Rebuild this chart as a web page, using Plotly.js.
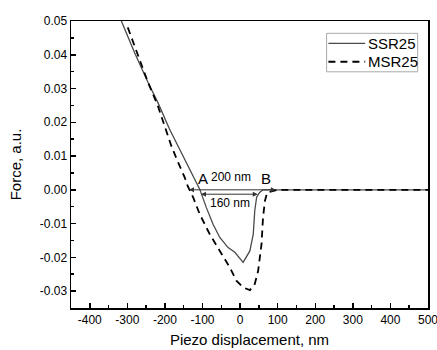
<!DOCTYPE html>
<html>
<head>
<meta charset="utf-8">
<script src="https://cdn.plot.ly/plotly-3.0.1.min.js"></script>
<style>html,body{margin:0;padding:0;background:#fff;}#chart{width:437px;height:350px;}</style>
</head>
<body>
<div id="chart"></div>
<script>
// series names
const seriesNames = ['SSR25', 'MSR25'];
// SSR25 (solid)
const ssrX = [-316, -281, -245, -219, -188, -156, -130, -116, -107.5, -90, -72, -54, -32, -14, 8, 26, 35, 39, 44, 52, 61, 100, 200, 300, 400, 500];
const ssrY = [0.0500, 0.0407, 0.0318, 0.0259, 0.0180, 0.0111, 0.0052, 0.0022, 0.0002, -0.0052, -0.0102, -0.0141, -0.0171, -0.0185, -0.0215, -0.0181, -0.0131, -0.0062, -0.0022, -0.0008, 0, 0, 0, 0, 0, 0];
// MSR25 (dashed)
const msrX = [-299, -281, -263, -245, -219, -201, -183, -165, -147.5, -139, -125, -107.5, -81, -54, -27.5, -10, 8, 26, 39, 48, 57, 61, 66, 72, 100, 200, 300, 400, 500];
const msrY = [0.0481, 0.0426, 0.0367, 0.0318, 0.0249, 0.0189, 0.0130, 0.0081, 0.0037, 0.0010, -0.0022, -0.0072, -0.0131, -0.0181, -0.0230, -0.0269, -0.0289, -0.0297, -0.0279, -0.0240, -0.0161, -0.0082, -0.0033, -0.0008, 0, 0, 0, 0, 0];

const xTickVals = [-400, -300, -200, -100, 0, 100, 200, 300, 400, 500];
const xTickText = ['-400', '-300', '-200', '-100', '0', '100', '200', '300', '400', '500'];
const yTickVals = [-0.03, -0.02, -0.01, 0, 0.01, 0.02, 0.03, 0.04, 0.05];
const yTickText = ['-0.03', '-0.02', '-0.01', '0.00', '0.01', '0.02', '0.03', '0.04', '0.05'];

// annotation spans
const spanA = [-140, 95, 0];       // 200 nm arrow: x0, x1, y
const spanB = [-108, 47, -0.0013]; // 160 nm arrow

const FONT = 'Arial, "Liberation Sans", sans-serif';
const SOLID = {color: '#4a4a4a', width: 1.3};
const DASHED = {color: '#000', width: 1.8, dash: '7px,5px'};

const traces = [
  {x: ssrX, y: ssrY, name: seriesNames[0], mode: 'lines', line: SOLID, showlegend: false},
  {x: msrX, y: msrY, name: seriesNames[1], mode: 'lines', line: DASHED, showlegend: false}
];

const annotations = [
  {x: spanA[1], y: spanA[2], ax: spanA[0], ay: spanA[2], xref: 'x', yref: 'y', axref: 'x', ayref: 'y', text: '', showarrow: true, arrowhead: 2, arrowside: 'end+start', arrowsize: 1, arrowwidth: 1, arrowcolor: '#333'},
  {x: spanB[1], y: spanB[2], ax: spanB[0], ay: spanB[2], xref: 'x', yref: 'y', axref: 'x', ayref: 'y', text: '', showarrow: true, arrowhead: 2, arrowside: 'end+start', arrowsize: 1, arrowwidth: 1, arrowcolor: '#333'},
  {x: -100, y: 0.0034, xref: 'x', yref: 'y', text: 'A', showarrow: false, font: {family: FONT, size: 15, color: '#000'}},
  {x: -23, y: 0.0038, xref: 'x', yref: 'y', text: '200 nm', showarrow: false, font: {family: FONT, size: 12, color: '#000'}},
  {x: 70, y: 0.0034, xref: 'x', yref: 'y', text: 'B', showarrow: false, font: {family: FONT, size: 15, color: '#000'}},
  {x: -27, y: -0.0040, xref: 'x', yref: 'y', text: '160 nm', showarrow: false, font: {family: FONT, size: 12, color: '#000'}},
  // legend labels
  {x: 0.826, y: 0.922, xref: 'paper', yref: 'paper', xanchor: 'left', yanchor: 'middle', text: seriesNames[0], showarrow: false, font: {family: FONT, size: 15, color: '#000'}},
  {x: 0.826, y: 0.858, xref: 'paper', yref: 'paper', xanchor: 'left', yanchor: 'middle', text: seriesNames[1], showarrow: false, font: {family: FONT, size: 15, color: '#000'}}
];

const shapes = [
  {type: 'rect', xref: 'paper', yref: 'paper', x0: 0.716, x1: 0.971, y0: 0.823, y1: 0.957, line: {color: '#aaa', width: 1}, fillcolor: '#fff', layer: 'above'},
  {type: 'line', xref: 'paper', yref: 'paper', x0: 0.721, x1: 0.824, y0: 0.922, y1: 0.922, line: SOLID, layer: 'above'},
  {type: 'line', xref: 'paper', yref: 'paper', x0: 0.721, x1: 0.824, y0: 0.858, y1: 0.858, line: DASHED, layer: 'above'}
];

const layout = {
  width: 437, height: 350,
  margin: {l: 71, r: 9, t: 21, b: 42},
  paper_bgcolor: '#fff', plot_bgcolor: '#fff',
  font: {family: FONT, size: 12, color: '#000'},
  showlegend: false,
  xaxis: {
    range: [-450, 500], tickvals: xTickVals, ticktext: xTickText,
    ticks: 'inside', ticklen: 5, tickwidth: 1.5, tickcolor: '#000',
    minor: {ticks: 'inside', ticklen: 3, tickwidth: 1.5, tickcolor: '#000', dtick: 50, tick0: 0, showgrid: false},
    showline: true, linecolor: '#000', linewidth: 1.5, mirror: true,
    showgrid: false, zeroline: false, ticklabeloverflow: 'allow',
    tickfont: {size: 12},
    title: {text: 'Piezo displacement, nm', font: {size: 15}, standoff: 8}
  },
  yaxis: {
    range: [-0.035, 0.05], tickvals: yTickVals, ticktext: yTickText,
    ticks: 'inside', ticklen: 5, tickwidth: 1.5, tickcolor: '#000',
    minor: {ticks: 'inside', ticklen: 3, tickwidth: 1.5, tickcolor: '#000', dtick: 0.005, tick0: 0, showgrid: false},
    showline: true, linecolor: '#000', linewidth: 1.5, mirror: true,
    showgrid: false, zeroline: false,
    tickfont: {size: 12},
    title: {text: 'Force, a.u.', font: {size: 15}, standoff: 14}
  },
  shapes: shapes,
  annotations: annotations
};

Plotly.newPlot('chart', traces, layout, {staticPlot: true, displayModeBar: false});
</script>
</body>
</html>
